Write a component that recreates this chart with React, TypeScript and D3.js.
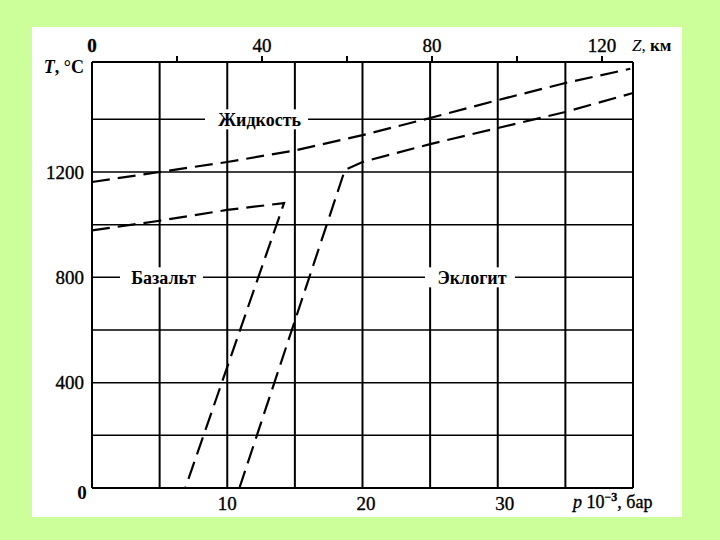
import React from "react";
import * as d3 from "d3";

// ---- data ----
const pressureGrid = [5, 10, 15, 20, 25, 30, 35];
const tempGrid = [200, 400, 600, 800, 1000, 1200, 1400];
const pressureLabels = [10, 20, 30];
const tempLabels = [1200, 800, 400];
const depthTicks = [20, 40, 60, 80, 100, 120];
const depthLabels = [0, 40, 80, 120];

// liquidus curve (p·10^-3 bar, T °C)
const liquidusP = [0, 5, 10, 15, 20, 25, 30, 35, 39.8];
const liquidusT = [1162, 1200, 1238, 1282, 1340, 1405, 1473, 1538, 1592];
// basalt solidus + basalt/eclogite boundary (hook)
const basaltP = [0, 5, 10, 14.2, 6.9];
const basaltT = [978, 1015, 1056, 1082, 0];
// eclogite boundary + eclogite solidus
const eclogiteP = [10.9, 18.7, 20, 25, 30, 35, 40];
const eclogiteT = [0, 1208, 1238, 1306, 1367, 1428, 1500];

const regionLabels = [
  { text: "Жидкость", p: 12.4, t: 1400, gap: [205, 308] },
  { text: "Базальт", p: 5.3, t: 800, gap: [120, 203] },
  { text: "Эклогит", p: 28.1, t: 800, gap: [425, 515] },
];

export default function App() {
  const left = 92, right = 633, top = 62, bottom = 488;
  const x = d3.scaleLinear().domain([0, 40]).range([left, right]);
  const y = d3.scaleLinear().domain([0, 1200]).range([bottom, 172]);
  const z = d3.scaleLinear().domain([0, 120]).range([left, 602]);

  const line = d3
    .line<[number, number]>()
    .x((d) => x(d[0]))
    .y((d) => y(d[1]));
  const pts = (ps: number[], ts: number[]) =>
    ps.map((p, i) => [p, ts[i]] as [number, number]);

  const font = "'Liberation Serif', 'Times New Roman', serif";
  const dash = "18 8";
  const heavy = { stroke: "#000", strokeWidth: 0.35 };

  return (
    <svg
      width={720}
      height={540}
      style={{ position: "absolute", left: 0, top: 0, display: "block" }}
      fontFamily={font}
    >
      <rect x={0} y={0} width={720} height={540} fill="#ccff99" />
      <rect x={32} y={27} width={650} height={490} fill="#ffffff" />

      {/* horizontal grid */}
      {tempGrid.map((t) => (
        <line key={"h" + t} x1={left} x2={right} y1={y(t)} y2={y(t)} stroke="#000" strokeWidth={1.5} />
      ))}
      {/* vertical grid */}
      {pressureGrid.map((p) => (
        <line key={"v" + p} x1={x(p)} x2={x(p)} y1={top} y2={bottom} stroke="#000" strokeWidth={2} />
      ))}
      {/* frame */}
      <line x1={left} x2={left} y1={top} y2={bottom} stroke="#000" strokeWidth={2} />
      <line x1={right} x2={right} y1={top} y2={bottom} stroke="#000" strokeWidth={2} />
      <line x1={left} x2={right} y1={top} y2={top} stroke="#000" strokeWidth={2} />
      <line x1={left} x2={right} y1={bottom} y2={bottom} stroke="#000" strokeWidth={2} />

      {/* top depth ticks */}
      {depthTicks.map((d) => (
        <line key={"zt" + d} x1={z(d)} x2={z(d)} y1={top - 6} y2={top} stroke="#000" strokeWidth={2} />
      ))}

      {/* curves */}
      <path d={line(pts(liquidusP, liquidusT)) || ""} fill="none" stroke="#000" strokeWidth={2.2} strokeDasharray={dash} />
      <path d={line(pts(basaltP, basaltT)) || ""} fill="none" stroke="#000" strokeWidth={2.2} strokeDasharray={dash} />
      <path d={line(pts(eclogiteP, eclogiteT)) || ""} fill="none" stroke="#000" strokeWidth={2.2} strokeDasharray={dash} />

      {/* region labels */}
      {regionLabels.map((r) => (
        <g key={r.text}>
          <rect x={r.gap[0]} y={y(r.t) - 10} width={r.gap[1] - r.gap[0]} height={20} fill="#fff" />
          <text x={x(r.p)} y={y(r.t)} dy="0.35em" textAnchor="middle" fontSize={18} fontWeight="bold">
            {r.text}
          </text>
        </g>
      ))}

      {/* y labels */}
      {tempLabels.map((t) => (
        <text key={"yl" + t} x={84} y={y(t)} dy="0.35em" textAnchor="end" fontSize={19} {...heavy}>
          {t}
        </text>
      ))}
      <text x={82} y={y(0) + 4} dy="0.35em" textAnchor="middle" fontSize={19} fontWeight="bold">0</text>
      <text x={84} y={67} dy="0.35em" textAnchor="end" fontSize={18} fontWeight="bold">
        <tspan fontStyle="italic">T</tspan>, °C
      </text>

      {/* bottom labels */}
      {pressureLabels.map((p) => (
        <text key={"xl" + p} x={x(p) + (p - 10) * 0.35} y={503} dy="0.35em" textAnchor="middle" fontSize={19} {...heavy}>
          {p}
        </text>
      ))}
      <text x={573} y={502} dy="0.35em" fontSize={18} {...heavy}>
        <tspan fontStyle="italic">p</tspan> 10<tspan dy="-7" fontSize={12} fontWeight="bold">−3</tspan>
        <tspan dy="7">, бар</tspan>
      </text>

      {/* top labels */}
      {depthLabels.map((d) => (
        <text key={"zl" + d} x={z(d)} y={45} dy="0.35em" textAnchor="middle" fontSize={19} {...heavy} fontWeight={d === 0 ? "bold" : "normal"}>
          {d}
        </text>
      ))}
      <text x={632} y={45} dy="0.35em" fontSize={17}>
        <tspan fontStyle="italic">Z</tspan>, <tspan fontWeight="bold">км</tspan>
      </text>
    </svg>
  );
}
